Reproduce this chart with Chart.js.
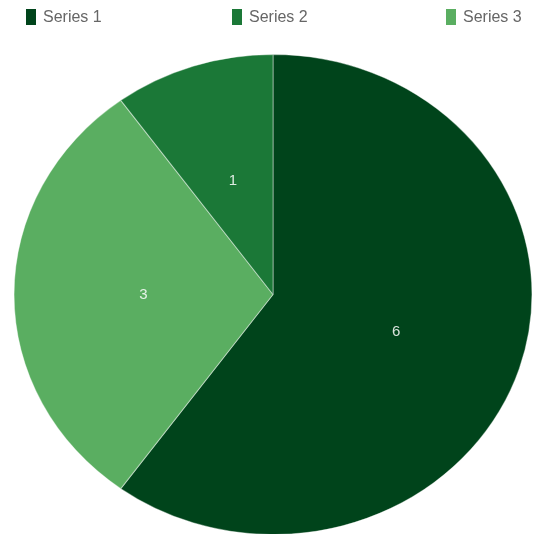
<!DOCTYPE html>
<html>
<head>
<meta charset="utf-8">
<script src="https://cdn.jsdelivr.net/npm/chart.js@4/dist/chart.umd.min.js"></script>
<style>
  html, body { margin: 0; padding: 0; background: #ffffff; }
  #wrap { position: relative; width: 533px; height: 534px; }
</style>
</head>
<body>
<div id="wrap"><canvas id="c"></canvas></div>
<script>
// ---- data ----
const categories = ['Series 1', 'Series 2', 'Series 3'];
const values = [6, 1, 3];
const colors = ['#00441b', '#1b7837', '#5aae61'];
// order in which slices are laid out clockwise from 12 o'clock
const drawOrder = [0, 2, 1];

const sliceLabels = drawOrder.map(i => categories[i]);
const sliceValues = drawOrder.map(i => values[i]);
const sliceColors = drawOrder.map(i => colors[i]);

const STRETCH_X = 1.079;   // reference pie is slightly wider than tall

const ellipsePlugin = {
  id: 'ellipse',
  beforeDatasetsDraw(chart) {
    const arc = chart.getDatasetMeta(0).data[0];
    if (!arc) return;
    const ctx = chart.ctx;
    ctx.save();
    ctx.translate(arc.x, arc.y);
    ctx.scale(STRETCH_X, 1);
    ctx.translate(-arc.x, -arc.y);
  },
  afterDatasetsDraw(chart) {
    const ctx = chart.ctx;
    ctx.restore();
    // value labels at half radius
    const meta = chart.getDatasetMeta(0);
    const ds = chart.data.datasets[0];
    ctx.save();
    ctx.font = '15px "Liberation Sans", Arial, sans-serif';
    ctx.fillStyle = 'rgba(255,255,255,0.85)';
    ctx.textAlign = 'center';
    ctx.textBaseline = 'middle';
    meta.data.forEach((arc, i) => {
      const p = arc.getProps(['x', 'y', 'startAngle', 'endAngle', 'outerRadius'], true);
      const mid = (p.startAngle + p.endAngle) / 2;
      const r = p.outerRadius * 0.5;
      const lx = p.x + Math.cos(mid) * r * STRETCH_X;
      const ly = p.y + Math.sin(mid) * r;
      ctx.fillText(String(ds.data[i]), lx, ly);
    });
    ctx.restore();
  }
};

const legendPlugin = {
  id: 'topLegend',
  afterDraw(chart, args, opts) {
    const ctx = chart.ctx;
    ctx.save();
    ctx.font = '16px "Liberation Sans", Arial, sans-serif';
    ctx.textBaseline = 'middle';
    ctx.textAlign = 'left';
    categories.forEach((name, i) => {
      const x = opts.xs[i];
      ctx.fillStyle = colors[i];
      ctx.fillRect(x, opts.boxTop, opts.boxW, opts.boxH);
      ctx.fillStyle = '#666666';
      ctx.fillText(name, x + opts.boxW + 7, opts.boxTop + opts.boxH / 2 + 0.5);
    });
    ctx.restore();
  }
};

new Chart(document.getElementById('c'), {
  type: 'pie',
  data: {
    labels: sliceLabels,
    datasets: [{
      data: sliceValues,
      backgroundColor: sliceColors,
      borderColor: 'rgba(255,255,255,0.4)',
      borderWidth: 1,
      radius: 240,
      hoverOffset: 0
    }]
  },
  options: {
    responsive: true,
    maintainAspectRatio: false,
    animation: false,
    events: [],
    layout: { padding: { top: 55, left: 13, right: 0, bottom: 0 } },
    plugins: {
      legend: { display: false },
      tooltip: { enabled: false },
      topLegend: { xs: [26, 232, 446], boxTop: 9, boxW: 10, boxH: 16 }
    }
  },
  plugins: [ellipsePlugin, legendPlugin]
});
</script>
</body>
</html>
